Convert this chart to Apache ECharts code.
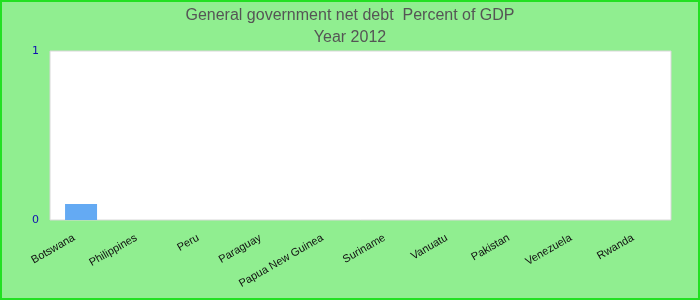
<!DOCTYPE html>
<html>
<head>
<meta charset="utf-8">
<script src="https://cdn.jsdelivr.net/npm/echarts@6/dist/echarts.min.js"></script>
<style>
html,body{margin:0;padding:0;}
#wrap{position:relative;width:700px;height:300px;}
#chart{width:700px;height:300px;}
#frame{position:absolute;left:0;top:0;width:700px;height:300px;box-sizing:border-box;border:2px solid #22e022;pointer-events:none;}
</style>
</head>
<body>
<div id="wrap"><div id="chart"></div><div id="frame"></div></div>
<script>
var titleLine1 = 'General government net debt  Percent of GDP';
var titleLine2 = 'Year 2012';
var categories = ['Botswana','Philippines','Peru','Paraguay','Papua New Guinea','Suriname','Vanuatu','Pakistan','Venezuela','Rwanda'];
var values = [0.095, 0, 0, 0, 0, 0, 0, 0, 0, 0];
var yTicks = [0, 1];

var chart = echarts.init(document.getElementById('chart'));
chart.setOption({
  backgroundColor: '#90ee90',
  animation: false,
  title: {
    text: titleLine1 + '\n' + titleLine2,
    left: 'center',
    top: 0,
    textStyle: {fontFamily: 'Liberation Sans', fontSize: 16, fontWeight: 'normal', color: '#555555', lineHeight: 22}
  },
  grid: {left: 50, right: 29, top: 51, bottom: 80, show: true, backgroundColor: '#ffffff', borderColor: '#d8d8d8', borderWidth: 1},
  xAxis: {
    type: 'category',
    data: categories,
    axisLine: {show: false},
    axisTick: {show: false},
    axisLabel: {rotate: 30, interval: 0, fontFamily: 'Liberation Sans', fontSize: 11, color: '#111111', margin: 13, padding: [0, 8, 0, 0]}
  },
  yAxis: {
    type: 'value',
    min: yTicks[0],
    max: yTicks[yTicks.length - 1],
    interval: 1,
    axisLine: {show: false},
    axisTick: {show: false},
    splitLine: {show: false},
    axisLabel: {fontFamily: 'DejaVu Sans', fontSize: 11, color: '#1010b0', margin: 11, verticalAlign: 'middle', padding: [3, 0, 0, 0]}
  },
  series: [{
    type: 'bar',
    data: values,
    barWidth: 32,
    itemStyle: {color: '#64aaf3'}
  }]
});
</script>
</body>
</html>
